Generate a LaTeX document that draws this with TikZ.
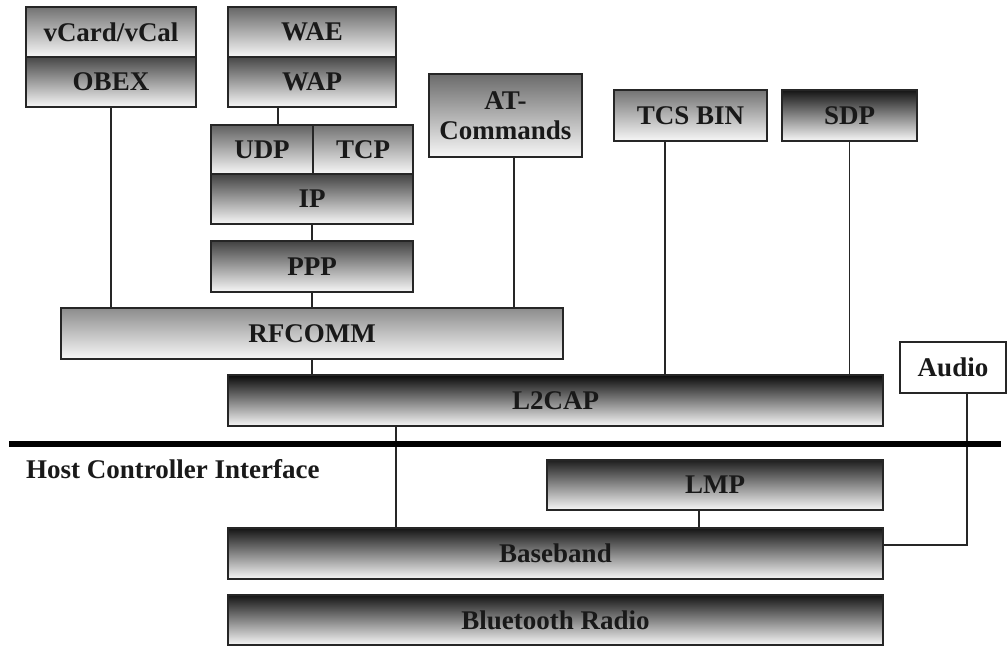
\documentclass[tikz,border=0pt]{standalone}
\usepackage{fontspec}
\setmainfont{Liberation Serif}
\newcommand\lbl{\bfseries\fontsize{27}{30}\selectfont}
\begin{document}
\begin{tikzpicture}[x=1pt,y=-1pt,
  lay/.style={draw=black!85, line width=1.1pt, inner sep=0pt, font=\lbl, text=black!90, align=center},
  sh/.style={top color=black!#1, middle color=black!#1!white!40!white, bottom color=black!3},
  wire/.style={draw=black!85, line width=1.1pt},
  bar/.style={draw=black, line width=6pt}]
\useasboundingbox[fill=white] (0,0) rectangle (1008,645);

% upper stack
\node[lay,sh=55,minimum width=170pt,minimum height=50pt] (vcard) at (111,32) {vCard/vCal};
\node[lay,sh=72,minimum width=170pt,minimum height=50pt] (obex) at (111,82) {OBEX};
\node[lay,sh=60,minimum width=168pt,minimum height=50pt] (wae) at (312,32) {WAE};
\node[lay,sh=72,minimum width=168pt,minimum height=50pt] (wap) at (312,82) {WAP};
\node[lay,sh=62,minimum width=102pt,minimum height=49pt] (udp) at (262,149.5) {UDP};
\node[lay,sh=55,minimum width=100pt,minimum height=49pt] (tcp) at (363,149.5) {TCP};
\node[lay,sh=74,minimum width=202pt,minimum height=50pt] (ip) at (312,199) {IP};
\node[lay,sh=74,minimum width=202pt,minimum height=51pt] (ppp) at (312,266.5) {PPP};
\node[lay,sh=58,minimum width=153pt,minimum height=83pt] (at) at (505.5,115.5) {AT-\\Commands};
\node[lay,sh=55,minimum width=153pt,minimum height=51pt] (tcs) at (690.5,115.5) {TCS BIN};
\node[lay,sh=92,minimum width=135pt,minimum height=51pt] (sdp) at (849.5,115.5) {SDP};
\node[lay,sh=45,minimum width=502pt,minimum height=51pt] (rfcomm) at (312,333.5) {RFCOMM};
\node[lay,sh=96,minimum width=655pt,minimum height=51pt] (l2cap) at (555.5,400.5) {L2CAP};
\node[lay,fill=white,minimum width=106pt,minimum height=51pt] (audio) at (953,367.5) {Audio};

% HCI
\coordinate (hciL) at (9,444);
\coordinate (hciR) at (1001,444);
\node[anchor=west,inner sep=0pt,font=\lbl,text=black!90] (hci) at (26,469) {Host Controller Interface};

% lower stack
\node[lay,sh=88,minimum width=336pt,minimum height=50pt] (lmp) at (715,485) {LMP};
\node[lay,sh=92,minimum width=655pt,minimum height=51pt] (base) at (555.5,553.5) {Baseband};
\node[lay,sh=92,minimum width=655pt,minimum height=50pt] (radio) at (555.5,620) {Bluetooth Radio};

% connectors
\draw[wire] (obex.south) -- (obex.south |- rfcomm.north);
\draw[wire] ([xshift=-34pt]wap.south) -- ([xshift=-34pt]wap.south |- udp.north);
\draw[wire] (ip.south) -- (ppp.north);
\draw[wire] (ppp.south) -- (ppp.south |- rfcomm.north);
\draw[wire] ([xshift=8.5pt]at.south) -- ([xshift=8.5pt]at.south |- rfcomm.north);
\draw[wire] ([xshift=-25.5pt]tcs.south) -- ([xshift=-25.5pt]tcs.south |- l2cap.north);
\draw[wire] (sdp.south) -- (sdp.south |- l2cap.north);
\draw[wire] (rfcomm.south) -- (rfcomm.south |- l2cap.north);
\draw[wire] ([xshift=-159.5pt]l2cap.south) -- ([xshift=-159.5pt]l2cap.south |- base.north);
\draw[wire] ([xshift=-16pt]lmp.south) -- ([xshift=-16pt]lmp.south |- base.north);
\draw[wire] ([xshift=14pt]audio.south) |- ([yshift=8.5pt]base.east);
\draw[bar] (hciL) -- (hciR);
\end{tikzpicture}
\end{document}
